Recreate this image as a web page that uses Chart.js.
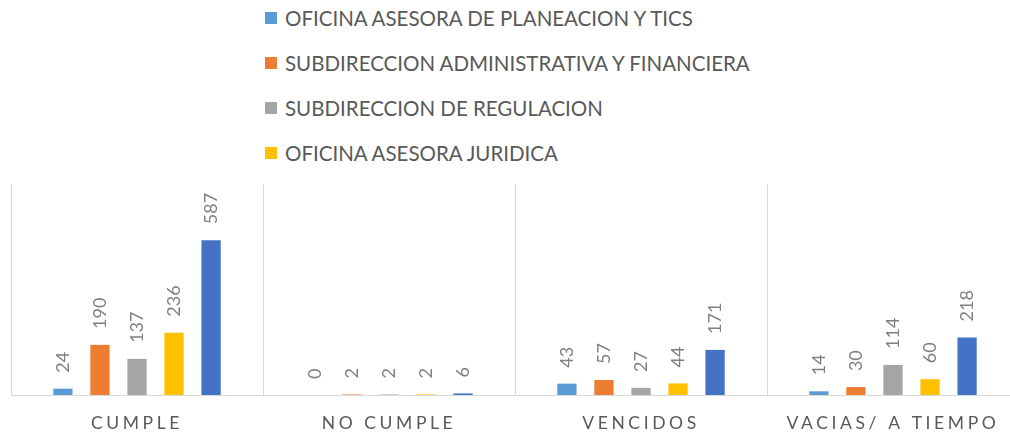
<!DOCTYPE html>
<html>
<head>
<meta charset="utf-8">
<script src="https://cdn.jsdelivr.net/npm/chart.js@4"></script>
<style>
  html, body { margin: 0; padding: 0; background: #fff; width: 1010px; height: 434px; overflow: hidden; }
  #legend { position: absolute; left: 265px; top: 0; font-family: Lato, sans-serif; font-size: 20.5px; color: #595959; }
  #legend .row { position: absolute; left: 0; white-space: nowrap; height: 24px; line-height: 24px; }
  #legend .box { position: absolute; left: 0; top: 6px; width: 12px; height: 12px; }
  #legend .txt { position: absolute; left: 20px; top: 0; }
  #wrap { position: absolute; left: 0; top: 170px; width: 1010px; height: 264px; overflow: hidden; }
  #inner { position: absolute; left: 0; top: 0; width: 1030px; height: 284px; }
</style>
</head>
<body>
<div id="legend"></div>
<div id="wrap"><div id="inner"><canvas id="chart"></canvas></div></div>
<script>
const categories = ['CUMPLE', 'NO CUMPLE', 'VENCIDOS', 'VACIAS/ A TIEMPO'];
const seriesNames = [
    'OFICINA ASESORA DE PLANEACION Y TICS',
    'SUBDIRECCION ADMINISTRATIVA Y FINANCIERA',
    'SUBDIRECCION DE REGULACION',
    'OFICINA ASESORA JURIDICA',
    'TOTAL'
];
const planeacion = [24, 0, 43, 14];
const administrativa = [190, 2, 57, 30];
const regulacion = [137, 2, 27, 114];
const juridica = [236, 2, 44, 60];
const total = [587, 6, 171, 218];
const colors = ['#5B9BD5', '#ED7D31', '#A5A5A5', '#FFC000', '#4472C4'];

const allValues = [planeacion, administrativa, regulacion, juridica, total];

// HTML legend: only the first four series are listed, like the original
let legend = document.getElementById('legend');
for (let i = 0; i < 4; i++) {
    let row = document.createElement('div');
    row.className = 'row';
    row.style.top = (6 + i * 45) + 'px';
    row.innerHTML = `<span class="box" style="background:${colors[i]}"></span><span class="txt">${seriesNames[i]}</span>`;
    legend.appendChild(row);
}

// value labels, rotated, above each bar
const valueLabels = {
    id: 'valueLabels',
    afterDatasetsDraw(chart) {
        let ctx = chart.ctx;
        ctx.save();
        ctx.font = '18px Lato, sans-serif';
        ctx.fillStyle = '#808080';
        ctx.textAlign = 'left';
        ctx.textBaseline = 'middle';
        chart.data.datasets.forEach((ds, i) => {
            chart.getDatasetMeta(i).data.forEach((bar, j) => {
                ctx.save();
                ctx.translate(bar.x, bar.y - 16);
                ctx.rotate(-Math.PI / 2);
                ctx.fillText(String(ds.data[j]), 0, 0);
                ctx.restore();
            });
        });
        ctx.restore();
    }
};

// spaced-out category labels
const spacedTicks = {
    id: 'spacedTicks',
    beforeDraw(chart) { chart.ctx.letterSpacing = '3.6px'; },
    beforeDatasetsDraw(chart) { chart.ctx.letterSpacing = '0px'; }
};

new Chart(document.getElementById('chart').getContext('2d'), {
    type: 'bar',
    data: {
        labels: categories,
        datasets: allValues.map((vals, i) => ({
            label: seriesNames[i],
            data: vals,
            backgroundColor: colors[i],
            categoryPercentage: 0.735,
            barPercentage: 0.52
        }))
    },
    options: {
        responsive: true,
        maintainAspectRatio: false,
        animation: false,
        layout: { padding: { left: 11, right: 11, top: 14, bottom: 2 } },
        plugins: {
            legend: { display: false },
            tooltip: { enabled: false }
        },
        scales: {
            x: {
                grid: { color: '#d9d9d9', drawTicks: false },
                border: { color: '#d9d9d9' },
                ticks: {
                    color: '#595959',
                    padding: 18,
                    font: { family: 'Lato', size: 17.5 }
                }
            },
            y: {
                display: false,
                min: 0,
                max: 800
            }
        }
    },
    plugins: [valueLabels, spacedTicks]
});
</script>
</body>
</html>
